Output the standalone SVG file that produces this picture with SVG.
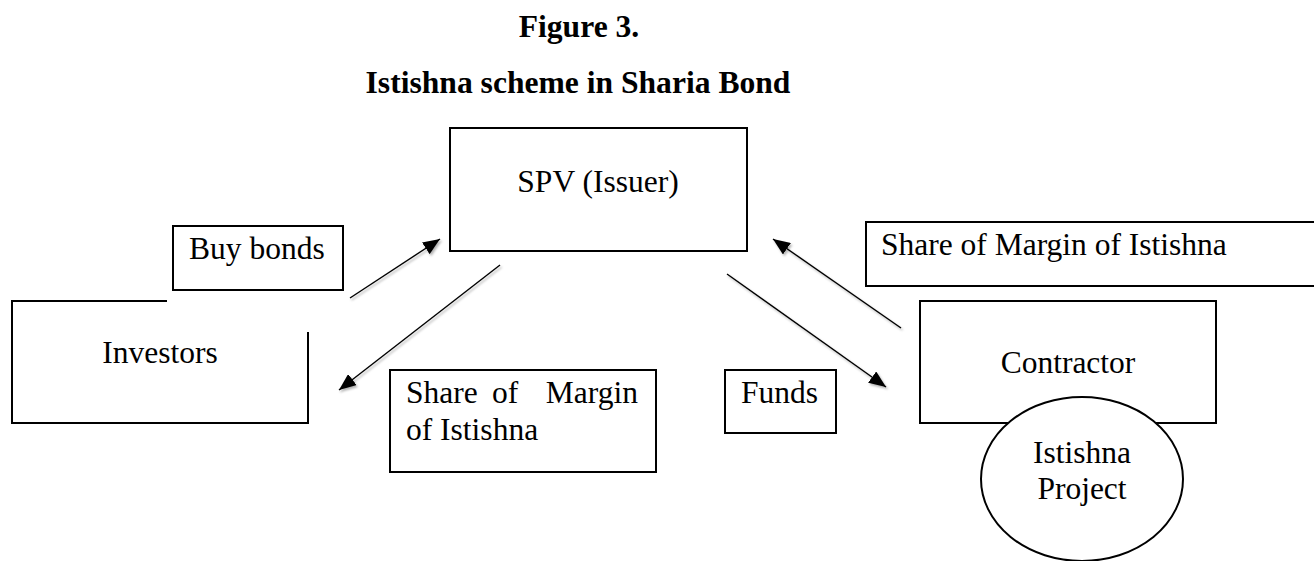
<svg xmlns="http://www.w3.org/2000/svg" width="1314" height="561" viewBox="0 0 1314 561">
<style>
  .box { fill: #fff; stroke: #000; stroke-width: 2; }
  .open { fill: none; stroke: #000; stroke-width: 2; }
  .t { font-family: "Liberation Serif", "Times New Roman", serif; font-size: 31.5px; fill: #000; }
  .title { font-family: "Liberation Serif", "Times New Roman", serif; font-size: 31.6px; font-weight: bold; fill: #000; text-anchor: middle; }
  .mid { text-anchor: middle; }
  .arrow { stroke: #000; stroke-width: 1.4; fill: none; marker-end: url(#ah); filter: url(#sh); }
</style>
<defs>
  <marker id="ah" markerUnits="userSpaceOnUse" markerWidth="18" markerHeight="14" refX="17" refY="7" orient="auto">
    <path d="M0,0 L17,7 L0,14 z" fill="#000"/>
  </marker>
  <filter id="sh" x="-20%" y="-20%" width="140%" height="140%">
    <feDropShadow dx="1.5" dy="2" stdDeviation="1.2" flood-color="#000" flood-opacity="0.3"/>
  </filter>
</defs>
<rect width="1314" height="561" fill="#fff"/>

<g id="title">
  <text class="title" x="579" y="37">Figure 3.</text>
  <text class="title" x="578" y="93">Istishna scheme in Sharia Bond</text>
</g>

<g id="connectors">
  <line class="arrow" x1="350" y1="298" x2="440" y2="239"/>
  <line class="arrow" x1="500" y1="265" x2="339" y2="390"/>
  <line class="arrow" x1="727" y1="274" x2="886" y2="387"/>
  <line class="arrow" x1="901" y1="328" x2="773" y2="239"/>
</g>

<g id="spv">
  <rect class="box" x="450" y="128" width="297" height="123"/>
  <text class="t mid" x="598" y="192">SPV (Issuer)</text>
</g>

<g id="buy-bonds">
  <rect class="box" x="173" y="226" width="170" height="64"/>
  <text class="t" x="189" y="259">Buy bonds</text>
</g>

<g id="investors">
  <path class="open" d="M167,301 H12 V423 H308 V332"/>
  <text class="t mid" x="160" y="363">Investors</text>
</g>

<g id="share-left">
  <rect class="box" x="390" y="370" width="266" height="102"/>
  <text class="t" x="406" y="403">Share</text>
  <text class="t" x="492" y="403">of</text>
  <text class="t" x="638" y="403" text-anchor="end">Margin</text>
  <text class="t" x="406" y="440">of Istishna</text>
</g>

<g id="funds">
  <rect class="box" x="725" y="370" width="111" height="63"/>
  <text class="t" x="741" y="403">Funds</text>
</g>

<g id="share-right">
  <rect class="box" x="866" y="222" width="460" height="64"/>
  <text class="t" x="881" y="255">Share of Margin of Istishna</text>
</g>

<g id="contractor">
  <rect class="box" x="920" y="301" width="296" height="122"/>
  <text class="t mid" x="1068" y="373">Contractor</text>
</g>

<g id="project">
  <ellipse class="box" cx="1082" cy="479" rx="101" ry="82"/>
  <text class="t mid" x="1082" y="463">Istishna</text>
  <text class="t mid" x="1082" y="499">Project</text>
</g>
</svg>
